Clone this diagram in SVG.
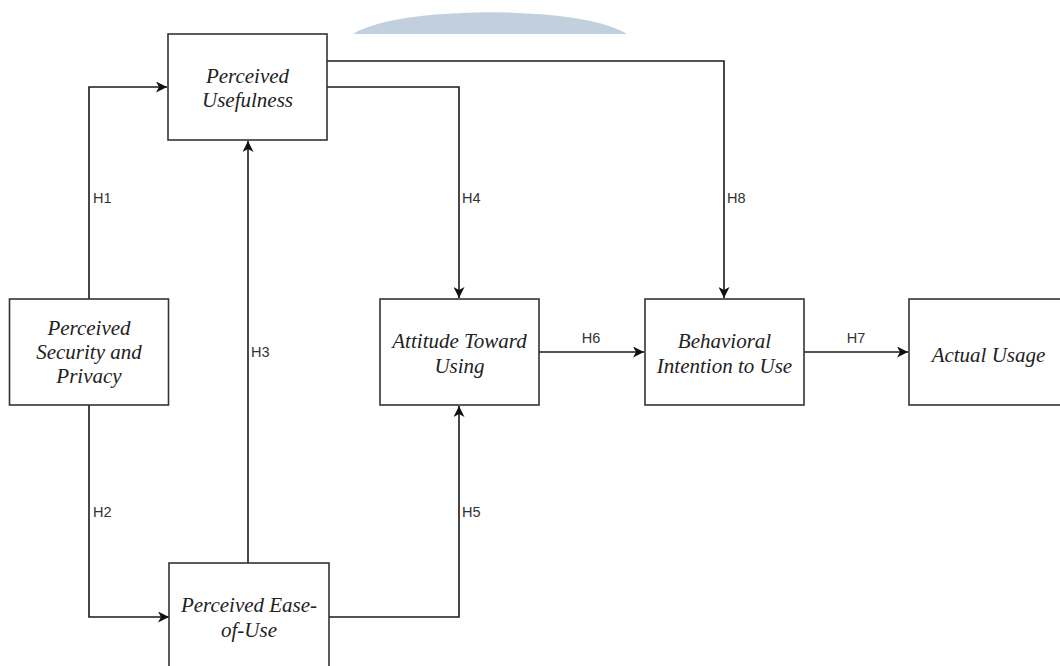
<svg xmlns="http://www.w3.org/2000/svg" width="1060" height="666" viewBox="0 0 1060 666">
<defs>
<style>
.box{fill:#fff;stroke:#333;stroke-width:1.6}
.nt{font-family:"Liberation Serif","Times New Roman",serif;font-style:italic;font-size:21px;fill:#222;text-anchor:middle}
.lb{font-family:"Liberation Sans",Arial,sans-serif;font-size:14.5px;fill:#333}
.ed{fill:none;stroke:#1a1a1a;stroke-width:1.6}
</style>
<marker id="arr" markerUnits="userSpaceOnUse" markerWidth="12" markerHeight="11" refX="11" refY="5.5" orient="auto">
<path d="M0,0 L11,5.5 L0,11 L3,5.5 z" fill="#111"/>
</marker>
<clipPath id="topclip"><rect x="0" y="0" width="1060" height="34"/></clipPath>
</defs>
<rect width="1060" height="666" fill="#fff"/>
<ellipse cx="490" cy="42.3" rx="142" ry="30" fill="#c2d0de" clip-path="url(#topclip)"/>

<g id="connectors">
<path class="ed" d="M89,299 V87 H167" marker-end="url(#arr)"/>
<path class="ed" d="M89,405 V617 H169" marker-end="url(#arr)"/>
<path class="ed" d="M248,563 V141" marker-end="url(#arr)"/>
<path class="ed" d="M327,87 H459 V298" marker-end="url(#arr)"/>
<path class="ed" d="M329,617 H459 V406" marker-end="url(#arr)"/>
<path class="ed" d="M327,61 H724 V298" marker-end="url(#arr)"/>
<path class="ed" d="M539,352 H644" marker-end="url(#arr)"/>
<path class="ed" d="M804,352 H908" marker-end="url(#arr)"/>
<text class="lb" x="93" y="203">H1</text>
<text class="lb" x="93" y="517">H2</text>
<text class="lb" x="251" y="357">H3</text>
<text class="lb" x="462" y="203">H4</text>
<text class="lb" x="462" y="517">H5</text>
<text class="lb" x="591" y="343" text-anchor="middle">H6</text>
<text class="lb" x="856" y="343" text-anchor="middle">H7</text>
<text class="lb" x="727" y="203">H8</text>
</g>

<g id="pu">
<rect class="box" x="168" y="34" width="159" height="106"/>
<text class="nt" x="247.5" y="83">Perceived</text>
<text class="nt" x="247.5" y="107">Usefulness</text>
</g>
<g id="psp">
<rect class="box" x="9.5" y="299" width="159" height="106"/>
<text class="nt" x="89" y="335">Perceived</text>
<text class="nt" x="89" y="359">Security and</text>
<text class="nt" x="89" y="383">Privacy</text>
</g>
<g id="peou">
<rect class="box" x="169" y="563" width="160" height="110"/>
<text class="nt" x="249" y="612">Perceived Ease-</text>
<text class="nt" x="249" y="637">of-Use</text>
</g>
<g id="atu">
<rect class="box" x="380" y="299" width="159" height="106"/>
<text class="nt" x="459.5" y="348">Attitude Toward</text>
<text class="nt" x="459.5" y="373">Using</text>
</g>
<g id="bi">
<rect class="box" x="645" y="299" width="159" height="106"/>
<text class="nt" x="724.5" y="348">Behavioral</text>
<text class="nt" x="724.5" y="373">Intention to Use</text>
</g>
<g id="au">
<rect class="box" x="909" y="299" width="159" height="106"/>
<text class="nt" x="988.5" y="362">Actual Usage</text>
</g>
</svg>
